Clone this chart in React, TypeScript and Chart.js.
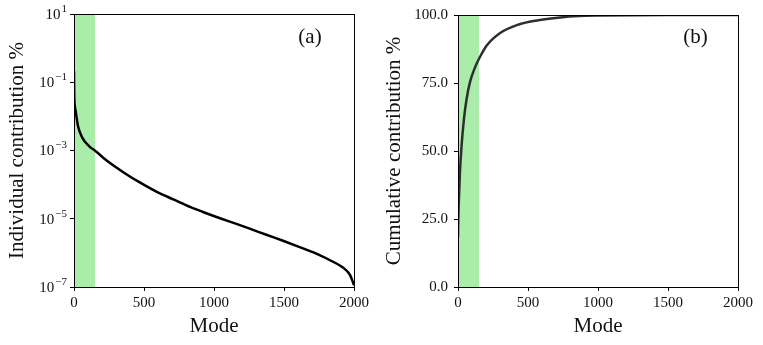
import React, { useEffect, useRef } from 'react';
import { Chart, registerables } from 'chart.js';

Chart.register(...registerables);

// ---- data ----
const indivModes = [0, 1, 2, 4, 12, 29, 60, 107, 155, 238, 357, 476, 595, 714, 833, 921, 1048, 1160, 1255, 1374, 1493, 1612, 1731, 1850, 1921, 1969, 1990, 2000];
const indivValues = [
  0.209, 0.0631, 0.0355, 0.024, 0.0141, 0.00513, 0.00234, 0.00135, 0.000955, 0.00049,
  0.000224, 0.000112, 6.03e-5, 3.63e-5, 2.19e-5, 1.58e-5, 1.02e-5, 7.08e-6, 5.13e-6,
  3.39e-6, 2.26e-6, 1.48e-6, 9.55e-7, 5.5e-7, 3.72e-7, 2.34e-7, 1.48e-7, 1.12e-7,
];
const cumModes = [0, 2, 5, 14, 26, 43, 62, 86, 122, 150, 205, 301, 420, 564, 731, 863, 1000, 1250, 1500, 2000];
const cumValues = [18.4, 24.5, 30.2, 42.4, 52.2, 62, 69.3, 75.4, 80.8, 83.9, 88.8, 93.4, 96.3, 98, 99.1, 99.6, 99.8, 99.95, 99.99, 100];

const xTicks = [0, 500, 1000, 1500, 2000];
const logTicks = [1e-7, 1e-5, 1e-3, 1e-1, 1e1];
const logTickExponents = ['−7', '−5', '−3', '−1', '1'];
const cumTicks = [0, 25, 50, 75, 100];
const bandRange = [0, 150];
const panelLabels = ['(a)', '(b)'];
const xTitle = 'Mode';
const yTitles = ['Individual contribution %', 'Cumulative contribution %'];

const FONT = '"Liberation Serif", "DejaVu Serif", serif';
const TEXT = '#111';

function framePlugin(label: string, lx: number, ly: number, logLabels: boolean) {
  return {
    id: 'frame',
    beforeDatasetsDraw(chart: any) {
      const { ctx, chartArea: a, scales } = chart;
      const x = scales.x;
      const x0 = x.getPixelForValue(bandRange[0]);
      const x1 = x.getPixelForValue(bandRange[1]);
      ctx.save();
      ctx.fillStyle = 'rgb(170,236,170)';
      ctx.fillRect(x0, a.top, x1 - x0, a.bottom - a.top);
      ctx.restore();
    },
    afterDraw(chart: any) {
      const { ctx, chartArea: a, scales } = chart;
      ctx.save();
      ctx.strokeStyle = '#000';
      ctx.lineWidth = 1;
      ctx.strokeRect(Math.round(a.left) + 0.5, Math.round(a.top) + 0.5, Math.round(a.right - a.left), Math.round(a.bottom - a.top));
      ctx.fillStyle = TEXT;
      ctx.font = `21px ${FONT}`;
      ctx.textAlign = 'center';
      ctx.textBaseline = 'middle';
      ctx.fillText(label, lx, ly);
      if (logLabels) {
        const y = scales.y;
        const right = a.left - 7;
        logTicks.forEach((v, i) => {
          const py = y.getPixelForValue(v);
          ctx.textAlign = 'right';
          ctx.textBaseline = 'middle';
          ctx.font = `11px ${FONT}`;
          const exp = logTickExponents[i];
          const ew = ctx.measureText(exp).width;
          ctx.fillText(exp, right, py - 5);
          ctx.font = `15px ${FONT}`;
          ctx.fillText('10', right - ew - 1, py + 1);
        });
      }
      ctx.restore();
    },
  };
}

function xScale() {
  return {
    type: 'linear',
    min: 0,
    max: 2000,
    afterBuildTicks: (s: any) => {
      s.ticks = xTicks.map((v) => ({ value: v }));
    },
    afterFit: (s: any) => {
      s.height = 58;
    },
    grid: { drawOnChartArea: false, drawTicks: true, tickLength: 4, color: '#000' },
    border: { display: false },
    ticks: { color: TEXT, font: { family: FONT, size: 15 }, padding: 3, maxRotation: 0, callback: (v: any) => String(v) },
    title: { display: true, text: xTitle, color: TEXT, font: { family: FONT, size: 21 }, padding: { top: 0, bottom: 6 } },
  };
}

function LeftChart() {
  const ref = useRef<HTMLCanvasElement>(null);
  useEffect(() => {
    const chart = new Chart(ref.current!, {
      type: 'line',
      data: {
        datasets: [
          {
            data: indivModes.map((m, i) => ({ x: m, y: indivValues[i] })),
            borderColor: '#000',
            borderWidth: 2.5,
            pointRadius: 0,
            fill: false,
            cubicInterpolationMode: 'monotone',
          },
        ],
      },
      options: {
        responsive: false,
        animation: false,
        devicePixelRatio: 1,
        layout: { padding: { top: 14, right: 26, left: 0, bottom: 0 } },
        plugins: { legend: { display: false }, tooltip: { enabled: false } },
        scales: {
          x: xScale() as any,
          y: {
            type: 'logarithmic',
            min: 1e-7,
            max: 10,
            afterBuildTicks: (s: any) => {
              s.ticks = logTicks.map((v) => ({ value: v }));
            },
            afterFit: (s: any) => {
              s.width = 74;
            },
            grid: { drawOnChartArea: false, drawTicks: true, tickLength: 4, color: '#000' },
            border: { display: false },
            ticks: { display: false },
            title: { display: true, text: yTitles[0], color: TEXT, font: { family: FONT, size: 21 }, padding: { top: 5, bottom: 0 } },
          } as any,
        },
      },
      plugins: [framePlugin(panelLabels[0], 310, 37, true)],
    } as any);
    return () => chart.destroy();
  }, []);
  return <canvas ref={ref} width={380} height={345} style={{ position: 'absolute', left: 0, top: 0 }} />;
}

function RightChart() {
  const ref = useRef<HTMLCanvasElement>(null);
  useEffect(() => {
    const chart = new Chart(ref.current!, {
      type: 'line',
      data: {
        datasets: [
          {
            data: cumModes.map((m, i) => ({ x: m, y: cumValues[i] })),
            borderColor: '#2e2e2e',
            borderWidth: 2.5,
            pointRadius: 0,
            fill: false,
            cubicInterpolationMode: 'monotone',
          },
        ],
      },
      options: {
        responsive: false,
        animation: false,
        devicePixelRatio: 1,
        layout: { padding: { top: 14, right: 25, left: 0, bottom: 0 } },
        plugins: { legend: { display: false }, tooltip: { enabled: false } },
        scales: {
          x: xScale() as any,
          y: {
            type: 'linear',
            min: 0,
            max: 100,
            afterBuildTicks: (s: any) => {
              s.ticks = cumTicks.map((v) => ({ value: v }));
            },
            afterFit: (s: any) => {
              s.width = 78;
            },
            grid: { drawOnChartArea: false, drawTicks: true, tickLength: 4, color: '#000' },
            border: { display: false },
            ticks: {
              color: TEXT,
              font: { family: FONT, size: 15 },
              padding: 6,
              callback: (v: any) => Number(v).toFixed(1),
            },
            title: { display: true, text: yTitles[1], color: TEXT, font: { family: FONT, size: 21 }, padding: { top: 2, bottom: 0 } },
          } as any,
        },
      },
      plugins: [framePlugin(panelLabels[1], 315.5, 37, false)],
    } as any);
    return () => chart.destroy();
  }, []);
  return <canvas ref={ref} width={383} height={345} style={{ position: 'absolute', left: 380, top: 0 }} />;
}

export default function App() {
  return (
    <div style={{ position: 'fixed', left: 0, top: 0, width: 763, height: 345, background: '#fff', overflow: 'hidden' }}>
      <LeftChart />
      <RightChart />
    </div>
  );
}
